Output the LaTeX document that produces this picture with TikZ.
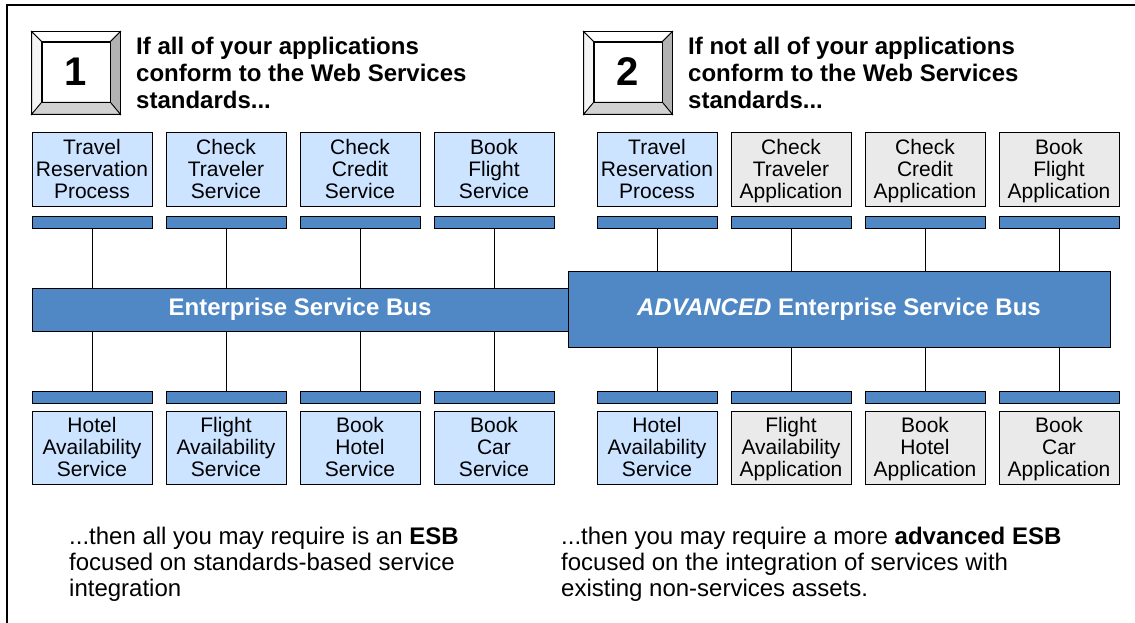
\documentclass[tikz,border=0pt]{standalone}
\usepackage{fontspec}
\setmainfont{Liberation Sans}
\usepackage{tikz}
\usetikzlibrary{positioning,calc}

\definecolor{svcblue}{RGB}{204,228,255}
\definecolor{appgray}{RGB}{234,234,234}
\definecolor{busblue}{RGB}{79,136,197}

\tikzset{
  svc/.style={draw, line width=1pt, fill=svcblue, minimum width=120pt, minimum height=73pt,
    inner sep=0pt, align=center, font=\fontsize{21}{22}\selectfont,
    execute at begin node=\rule{0pt}{65pt}, execute at end node=\strut},
  app/.style={svc, fill=appgray},
  bar/.style={draw, line width=1pt, fill=busblue, minimum width=120pt, minimum height=12pt, inner sep=0pt},
  bus/.style={draw, line width=1pt, fill=busblue, text=white, inner sep=0pt,
    font=\fontsize{24}{27}\selectfont\bfseries},
  keyface/.style={draw, line width=0.8pt, fill=white, minimum width=68pt, minimum height=60pt,
    inner sep=0pt, font=\fontsize{40}{40}\selectfont\bfseries},
  heading/.style={anchor=west, inner sep=0pt, align=left, font=\fontsize{24}{27}\selectfont\bfseries},
  remark/.style={anchor=west, inner sep=0pt, align=left, font=\fontsize{24}{26}\selectfont},
  link/.style={line width=1pt}
}

\begin{document}
\begin{tikzpicture}[x=1pt,y=-1pt]
  \useasboundingbox (0,0) rectangle (1135,623);

  % Frame on top and left
  \draw[line width=1.2pt] (1135,5) -- (7,5) -- (7,623);

  % Key caps with the numbers
  \node[keyface] (key1) at (76,72) {1};
  \node[keyface] (key2) at (628,72) {2};
  \foreach \k in {key1,key2} {
    \coordinate (onw) at ($(\k.north west)+(-10,-10)$);
    \coordinate (one) at ($(\k.north east)+(10,-10)$);
    \coordinate (osw) at ($(\k.south west)+(-10,12)$);
    \coordinate (ose) at ($(\k.south east)+(10,12)$);
    \draw[line width=0.8pt, fill=white] (onw) -- (one) -- (\k.north east) -- (\k.north west) -- cycle;
    \draw[line width=0.8pt, fill=gray!8] (onw) -- (\k.north west) -- (\k.south west) -- (osw) -- cycle;
    \draw[line width=0.8pt, fill=gray!60] (one) -- (ose) -- (\k.south east) -- (\k.north east) -- cycle;
    \draw[line width=0.8pt, fill=gray!35] (osw) -- (\k.south west) -- (\k.south east) -- (ose) -- cycle;
  }

  % Headings
  \node[heading] (head1) at (136,73) {If all of your applications\\conform to the Web Services\\standards...};
  \node[heading] (head2) at (688,73) {If not all of your applications\\conform to the Web Services\\standards...};

  % Top row, left
  \node[svc] (t1) at (92,169.5) {Travel\\Reservation\\Process};
  \node[svc, right=13pt of t1] (t2) {Check\\Traveler\\Service};
  \node[svc, right=13pt of t2] (t3) {Check\\Credit\\Service};
  \node[svc, right=13pt of t3] (t4) {Book\\Flight\\Service};

  % Top row, right
  \node[svc] (t5) at (657,169.5) {Travel\\Reservation\\Process};
  \node[app, right=13pt of t5] (t6) {Check\\Traveler\\Application};
  \node[app, right=13pt of t6] (t7) {Check\\Credit\\Application};
  \node[app, right=13pt of t7] (t8) {Book\\Flight\\Application};

  % Bars under the top row
  \foreach \i in {1,...,8}
    \node[bar, below=9pt of t\i] (tb\i) {};

  % Bottom row, left
  \node[svc] (b1) at (92,447.5) {Hotel\\Availability\\Service};
  \node[svc, right=13pt of b1] (b2) {Flight\\Availability\\Service};
  \node[svc, right=13pt of b2] (b3) {Book\\Hotel\\Service};
  \node[svc, right=13pt of b3] (b4) {Book\\Car\\Service};

  % Bottom row, right
  \node[svc] (b5) at (657,447.5) {Hotel\\Availability\\Service};
  \node[app, right=13pt of b5] (b6) {Flight\\Availability\\Application};
  \node[app, right=13pt of b6] (b7) {Book\\Hotel\\Application};
  \node[app, right=13pt of b7] (b8) {Book\\Car\\Application};

  % Bars over the bottom row
  \foreach \i in {1,...,8}
    \node[bar, above=7pt of b\i] (bb\i) {};

  % The two buses
  \node[bus, minimum width=536pt, minimum height=43pt] (esb) at (300,309.5) {Enterprise Service Bus};
  \node[bus, minimum width=542pt, minimum height=76pt] (aesb) at (839,309) {\textit{ADVANCED} Enterprise Service Bus};

  % Links to the buses
  \foreach \i in {1,...,4} {
    \draw[link] (tb\i.south) -- (tb\i.south |- esb.north);
    \draw[link] (bb\i.north) -- (bb\i.north |- esb.south);
  }
  \foreach \i in {5,...,8} {
    \draw[link] (tb\i.south) -- (tb\i.south |- aesb.north);
    \draw[link] (bb\i.north) -- (bb\i.north |- aesb.south);
  }

  % Remarks at the bottom
  \node[remark] (note1) at (69,564) {...then all you may require is an \textbf{ESB}\\focused on standards-based service\\integration};
  \node[remark] (note2) at (561,564) {...then you may require a more \textbf{advanced ESB}\\focused on the integration of services with\\existing non-services assets.};
\end{tikzpicture}
\end{document}
